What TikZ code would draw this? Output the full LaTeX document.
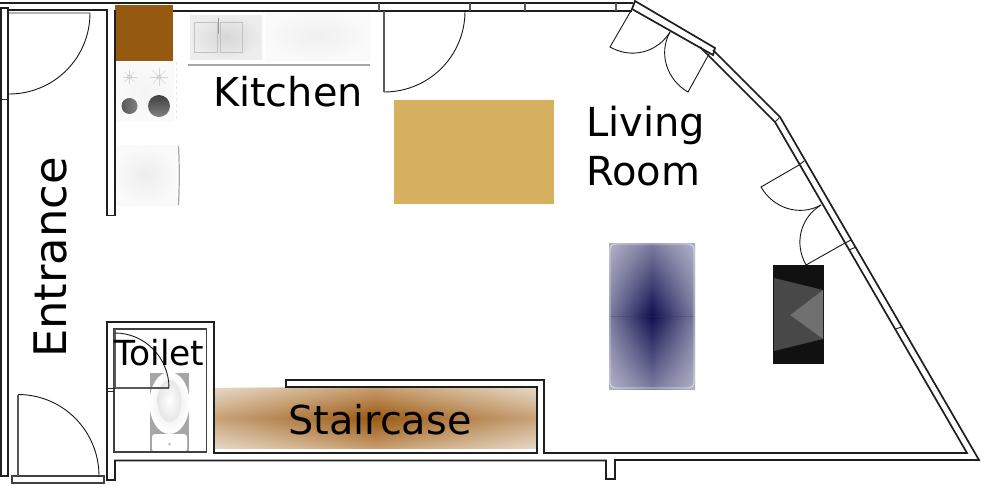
\documentclass[tikz,border=0pt]{standalone}
\usepackage{fontspec}
\setmainfont{DejaVu Sans}
\usetikzlibrary{fadings}
\tikzfading[name=midh, left color=transparent!100, right color=transparent!100, middle color=transparent!0]
\tikzset{
  wall/.style={draw=black!88, line width=1.7pt, line join=miter},
  thin wall/.style={draw=black!85, line width=1pt},
  leaf/.style={draw=black!65, line width=1.1pt},
  swing/.style={draw=black!90, line width=0.9pt},
  lab/.style={anchor=base west, inner sep=0pt, text=black},
}
\definecolor{stairmid}{HTML}{9B5A14}
\definecolor{stairedge}{HTML}{C9A47A}
\definecolor{stairtop}{HTML}{C79C6C}
\definecolor{stairlight}{HTML}{E6D8C6}
\definecolor{sofacorner}{RGB}{178,178,200}
\definecolor{sofaedge}{RGB}{125,125,160}
\definecolor{sofamid}{RGB}{15,15,80}
\begin{document}
\begin{tikzpicture}[x=1pt,y=-1pt]
\useasboundingbox[fill=white] (0,0) rectangle (981,485);

% furniture
\fill[fill={rgb,255:red,149;green,89;blue,15}] (115,5) rectangle (173,61);
\fill[fill={rgb,255:red,212;green,176;blue,95}] (394,100) rectangle (554,204);

% kitchen counter and sink
\shade[inner color=black!16, outer color=black!7] (190,15) rectangle (262,59);
\draw[black!24, line width=0.5pt] (194,22) rectangle (217,52) (220,22) rectangle (242,52);
\draw[black!40, line width=1pt] (218,18) -- (218,34);
\shade[inner color=black!6, outer color=black!2] (265,12) rectangle (370,60);
\draw[black!35, line width=1.2pt] (188,65) -- (370,65);
% stove
\shade[inner color=black!4, outer color=black!2] (115,62) rectangle (174,121);
\draw[black!10, line width=1pt, dashed] (176,62) -- (176,121);
\foreach \cx/\cr in {129.5/7,159/9}{
  \foreach \a in {0,45,...,315}
    \draw[black!16, line width=0.4pt] (\cx,77) -- +({\cr*cos(\a)},{\cr*sin(\a)});
  \draw[black!25, line width=0.4pt] (\cx,77) circle[radius=2];
}
\shade[left color=black!65, right color=black!50] (129.5,106) circle[radius=8];
\shade[top color=black!75, bottom color=black!50] (159,106) circle[radius=11];
% fridge
\shade[inner color=black!7, outer color=black!2] (115,145) rectangle (177,205);
\draw[black!35, line width=1.2pt] (178.5,146) .. controls (179.5,165) and (179.5,185) .. (178.5,205);

% staircase
\shade[top color=stairlight, bottom color=stairlight, middle color=stairedge] (214,388) rectangle (537,448);
\shade[top color=stairtop, bottom color=stairtop, middle color=stairmid, path fading=midh] (214,388) rectangle (537,448);

% sofa
\shade[top color=sofacorner, bottom color=sofacorner, middle color=sofaedge] (609,243) rectangle (695,389);
\shade[top color=sofaedge, bottom color=sofaedge, middle color=sofamid, path fading=midh] (609,243) rectangle (695,389);
\draw[draw={rgb,255:red,70;green,50;blue,90}, opacity=0.3, line width=0.8pt] (610,316) -- (694,316);
\draw[draw=white, opacity=0.7, line width=0.7pt, rounded corners=5pt] (610,244) rectangle (694,388);

% tv
\fill[fill={rgb,255:red,17;green,17;blue,17}] (773,265) rectangle (824,364);
\fill[fill={rgb,255:red,72;green,72;blue,72}] (774,278) -- (823,290) -- (790,315) -- (823,339) -- (774,351) -- cycle;
\fill[fill={rgb,255:red,112;green,112;blue,112}] (823,290) -- (790,315) -- (823,339) -- cycle;

% toilet bowl
\fill[black!35] (150,373) rectangle (189,453);
\shade[inner color=black!10, outer color=white] (169.5,403) ellipse[x radius=20, y radius=31];
\shade[inner color=white, outer color=black!10] (169.5,401) ellipse[x radius=12, y radius=21];
\fill[white, rounded corners=3pt] (152,434) rectangle (187,452);
\fill[black!25] (169.5,444) circle[radius=1.5];

% walls
\draw[wall] (0,3) -- (633,3);
\draw[wall] (173,11) -- (632,11);
\draw[wall] (1,476) -- (1,8) -- (8,8) -- (8,476) -- cycle;
\draw[thin wall] (1,99.5) -- (8,99.5);
\draw[wall] (9,10) -- (107,10) -- (107,215.5) -- (115,215.5) -- (115,10);
\draw[draw=black!30, line width=2pt] (9,12.5) -- (90,12.5);
\foreach \x in {379,470,525,616}
  \draw[leaf] (\x,3) -- (\x,11);
% diagonal wall
\draw[wall] (635,1) -- (715,48) -- (713,55) -- (632,9) -- cycle;
\draw[wall] (713,50) -- (778,115) -- (780,117) -- (979,460) -- (615,460) -- (615,479) -- (606,479) -- (606,460.5) -- (115,460.5) -- (115,480) -- (107,480) -- (107,322) -- (214,322) -- (214,453) -- (537,453) -- (537,387) -- (286,387) -- (286,380) -- (544,380) -- (544,453) -- (967,453) -- (775,122) -- (772,119) -- (700,47);
\draw[wall, draw=black!75] (114,329) rectangle (206.5,452);
\foreach \a/\b/\c/\d in {775/122/780/117, 799/165/804/161, 845/243/851/240, 849/250/856/247, 895/329/902/327}
  \draw[thin wall] (\a,\b) -- (\c,\d);
\draw[wall, fill=white, draw=black!75] (12,476) rectangle (104,483);

% doors
\draw[swing] (90,13) .. controls (90,58) and (54,94) .. (9,94);
\draw[leaf] (384,11) -- (384,92);
\draw[swing] (465,11) .. controls (465,56) and (429,92) .. (384,92);
\draw[leaf] (18,476) -- (18,394.5);
\draw[swing] (18,394.5) .. controls (63,394.5) and (99,431) .. (99,476);
\draw[swing] (632,9) -- (610,47) .. controls (631,59) and (657,53) .. (670,32);
\draw[swing] (709,54) -- (688,92) .. controls (667,80) and (658,53.5) .. (670,32);
\draw[swing] (799,165) -- (761,187) .. controls (773,208) and (799,217) .. (821,205);
\draw[swing] (845,243) -- (806,265) .. controls (794,243.5) and (800,218) .. (821,205);
\draw[leaf] (115,329) -- (115,388) -- (169,388);
\draw[thin wall] (107,388) -- (115,388);
\draw[thin wall] (107,391) -- (114,391);
\draw[swing] (115,333) .. controls (145,333) and (169,358) .. (169,388);

% labels
\node[lab] (kitchen) at (213,106) {\fontsize{39.8}{39.8}\selectfont Kitchen};
\node[lab] (living) at (586,136) {\fontsize{40}{40}\selectfont Living};
\node[lab] (room) at (586,185) {\fontsize{40}{40}\selectfont Room};
\node[lab, rotate=90] (entrance) at (66.5,358) {\fontsize{44.8}{44.8}\selectfont Entrance};
\node[lab] (toilet) at (114,365) {\fontsize{34.5}{34.5}\selectfont Toilet};
\node[lab] (staircase) at (288,434) {\fontsize{39.8}{39.8}\selectfont Staircase};
\end{tikzpicture}
\end{document}
